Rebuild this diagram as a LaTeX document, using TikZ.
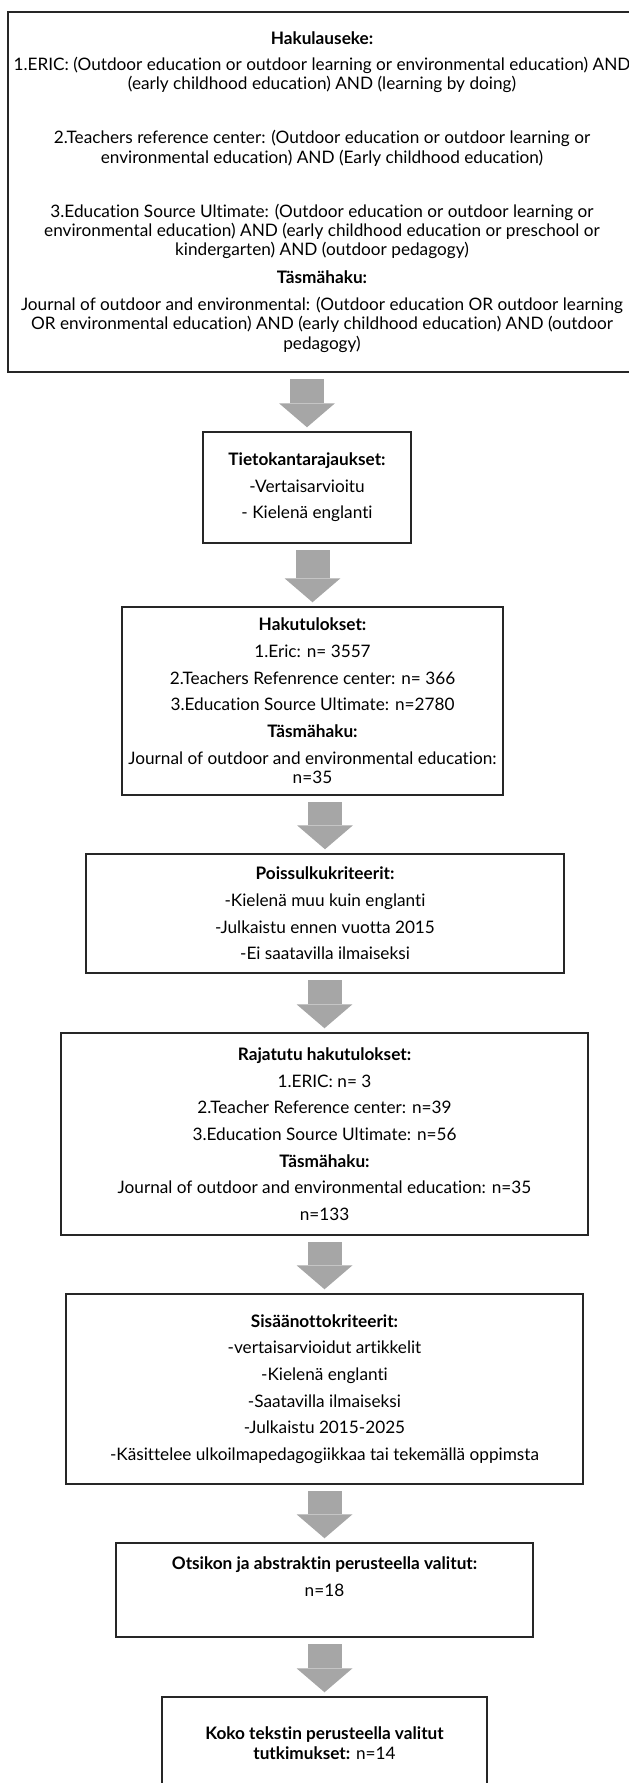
\documentclass[tikz,border=0pt]{standalone}
\usepackage{fontspec}
\setmainfont{Lato}[Ligatures={NoCommon}]
\usetikzlibrary{arrows.meta}
\definecolor{nuolenharmaa}{RGB}{166,166,166}
\tikzset{
  laatikko/.style={draw=black!85, line width=1.1pt, align=center, inner sep=0pt,
    font=\fontsize{12.9pt}{14.5pt}\selectfont},
  nuoli/.style={draw=nuolenharmaa, line width=25.5pt,
    -{Triangle[width=42pt,length=18pt,line width=0pt]}, shorten <=5pt, shorten >=3pt}
}

\begin{document}
\begin{tikzpicture}[x=0.75pt,y=-0.75pt]
    \useasboundingbox (0,0) rectangle (628,1783);
    % laatikot ylhaalta alas
    \node[laatikko, minimum width=471pt, minimum height=270pt] (hakulauseke) at (322,192) {%
        \textbf{Hakulauseke:}\\[5pt]
        1.ERIC: (Outdoor education or outdoor learning or environmental education) AND\\
        (early childhood education) AND (learning by doing)\\[26pt]
        2.Teachers reference center: (Outdoor education or outdoor learning or\\
        environmental education) AND (Early childhood education)\\[26pt]
        3.Education Source Ultimate: (Outdoor education or outdoor learning or\\
        environmental education) AND (early childhood education or preschool or\\
        kindergarten) AND (outdoor pedagogy)\\[6.5pt]
        \textbf{Täsmähaku:}\\[5.5pt]
        Journal of outdoor and environmental: (Outdoor education OR outdoor learning\\
        OR environmental education) AND (early childhood education) AND (outdoor\\
        pedagogy)};
    \node[laatikko, minimum width=156pt, minimum height=83.25pt] (rajaukset) at (307,487.5) {%
        \textbf{Tietokantarajaukset:}\\[5.5pt]
        -Vertaisarvioitu\\[5.5pt]
        - Kielenä englanti};
    \node[laatikko, minimum width=285.75pt, minimum height=141pt] (tulokset) at (312.5,701) {%
        \textbf{Hakutulokset:}\\[5.5pt]
        1.Eric: n= 3557\\[5.5pt]
        2.Teachers Refenrence center: n= 366\\[5.5pt]
        3.Education Source Ultimate: n=2780\\[5.5pt]
        \textbf{Täsmähaku:}\\[5.5pt]
        Journal of outdoor and environmental education:\\
        n=35};
    \node[laatikko, minimum width=358.5pt, minimum height=89.25pt] (poissulku) at (325,913.5) {%
        \textbf{Poissulkukriteerit:}\\[5.5pt]
        -Kielenä muu kuin englanti\\[5.5pt]
        -Julkaistu ennen vuotta 2015\\[5.5pt]
        -Ei saatavilla ilmaiseksi};
    \node[laatikko, minimum width=395.25pt, minimum height=151.5pt] (rajatut) at (324.5,1134) {%
        \textbf{Rajatutu hakutulokset:}\\[5.5pt]
        1.ERIC: n= 3\\[5.5pt]
        2.Teacher Reference center: n=39\\[5.5pt]
        3.Education Source Ultimate: n=56\\[5.5pt]
        \textbf{Täsmähaku:}\\[5.5pt]
        Journal of outdoor and environmental education: n=35\\[5.5pt]
        n=133};
    \node[laatikko, minimum width=387.75pt, minimum height=142.5pt] (sisaanotto) at (324.5,1389) {%
        \textbf{Sisäänottokriteerit:}\\[5.5pt]
        -vertaisarvioidut artikkelit\\[5.5pt]
        -Kielenä englanti\\[5.5pt]
        -Saatavilla ilmaiseksi\\[5.5pt]
        -Julkaistu 2015-2025\\[5.5pt]
        -Käsittelee ulkoilmapedagogiikkaa tai tekemällä oppimsta};
    \node[laatikko, minimum width=312.75pt, minimum height=70.5pt] (otsikko) at (324.5,1590) {%
        \textbf{Otsikon ja abstraktin perusteella valitut:}\\[5.5pt]
        n=18\\[5.5pt]
        ~};
    \node[laatikko, minimum width=243.75pt, minimum height=69pt] (kokoteksti) at (324.5,1743) {%
        \textbf{Koko tekstin perusteella valitut}\\
        \textbf{tutkimukset:} n=14};
    % harmaat nuolet
    \draw[nuoli] (hakulauseke.south -| rajaukset.north) -- (rajaukset.north);
    \draw[nuoli] (rajaukset.south -| tulokset.north) -- (tulokset.north);
    \draw[nuoli] (tulokset.south -| poissulku.north) -- (poissulku.north);
    \draw[nuoli] (poissulku.south -| rajatut.north) -- (rajatut.north);
    \draw[nuoli] (rajatut.south -| sisaanotto.north) -- (sisaanotto.north);
    \draw[nuoli] (sisaanotto.south -| otsikko.north) -- (otsikko.north);
    \draw[nuoli] (otsikko.south -| kokoteksti.north) -- (kokoteksti.north);
\end{tikzpicture}
\end{document}
